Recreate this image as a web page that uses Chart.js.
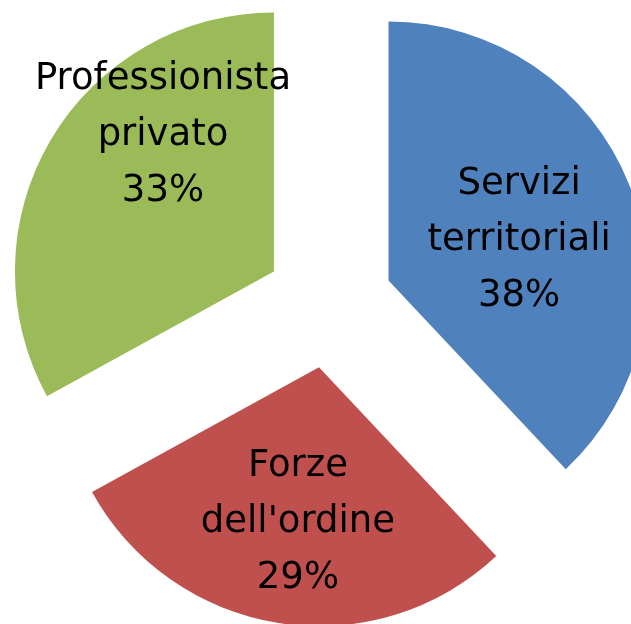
<!DOCTYPE html>
<html>
<head>
<meta charset="utf-8">
<script src="https://cdn.jsdelivr.net/npm/chart.js@4/dist/chart.umd.min.js"></script>
<style>
  html, body { margin: 0; padding: 0; background: #ffffff; }
  #wrap { position: relative; width: 631px; height: 624px; }
</style>
</head>
<body>
<div id="wrap"><canvas id="c" width="631" height="624"></canvas></div>
<script>
// ---- data ----
const categories = ["Servizi territoriali", "Forze dell'ordine", "Professionista privato"];
const labelLines = [["Servizi", "territoriali"], ["Forze", "dell'ordine"], ["Professionista", "privato"]];
const values = [38, 29, 33];
const colors = ["#4F81BD", "#C0504D", "#9BBB59"];

// ---- styling / placement (not data) ----
const EXPLODE = 64;       // px each slice is pulled out
const RADIUS = 259;       // px
// label anchor (middle line baseline) relative to the pie centre, in radius units
const labelPos = [[0.734, -0.208], [-0.120, 0.880], [-0.641, -0.614]];
const LINE_H = 56;

const explodePlugin = {
  id: 'explode',
  afterDatasetUpdate(chart, args) {
    const meta = chart.getDatasetMeta(args.index);
    meta.data.forEach(arc => {
      const mid = (arc.startAngle + arc.endAngle) / 2;
      arc.x += Math.cos(mid) * EXPLODE;
      arc.y += Math.sin(mid) * EXPLODE;
    });
  }
};

const labelPlugin = {
  id: 'sliceLabels',
  afterDatasetsDraw(chart) {
    const ctx = chart.ctx;
    const area = chart.chartArea;
    const cx = (area.left + area.right) / 2;
    const cy = (area.top + area.bottom) / 2;
    const meta = chart.getDatasetMeta(0);
    const total = values.reduce((a, b) => a + b, 0);
    ctx.save();
    ctx.fillStyle = '#000000';
    ctx.font = '37px "DejaVu Sans"';
    ctx.textAlign = 'center';
    ctx.textBaseline = 'alphabetic';
    meta.data.forEach((arc, i) => {
      const r = arc.outerRadius;
      const x = cx + labelPos[i][0] * r;
      const y = cy + labelPos[i][1] * r;
      const lines = labelLines[i].concat([Math.round(values[i] / total * 100) + '%']);
      lines.forEach((t, k) => {
        ctx.fillText(t, x, y + (k - 1) * LINE_H);
      });
    });
    ctx.restore();
  }
};

new Chart(document.getElementById('c'), {
  type: 'pie',
  data: {
    labels: categories,
    datasets: [{
      data: values,
      backgroundColor: colors,
      borderWidth: 0,
      clip: false
    }]
  },
  options: {
    responsive: false,
    animation: false,
    radius: RADIUS,
    layout: { padding: { left: 27, right: 0, top: 0, bottom: 16 } },
    plugins: { legend: { display: false }, tooltip: { enabled: false } }
  },
  plugins: [explodePlugin, labelPlugin]
});
</script>
</body>
</html>
